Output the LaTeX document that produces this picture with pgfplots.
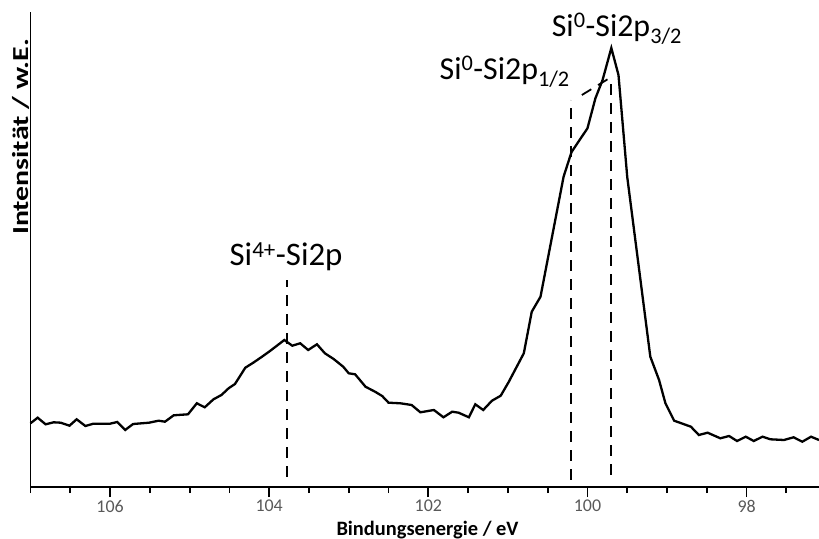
\documentclass[border=0pt]{standalone}
\usepackage{pgfplots}
\pgfplotsset{compat=1.18}
\usepackage{fontspec}
\setmainfont{Carlito}
\begin{document}
\begin{tikzpicture}
\begin{axis}[
  at={(0,0)}, anchor=south west,
  scale only axis, width=788.5bp, height=475bp,
  x dir=reverse, xmin=97.09, xmax=107, ymin=0, ymax=475,
  axis x line=bottom, axis y line=left,
  axis line style={-, line width=1.8bp},
  every outer x axis line/.append style={-},
  every outer y axis line/.append style={-},
  xtick={106,104,102,100,98},
  minor xtick={107,106.5,105.5,105,104.5,103.5,103,102.5,101.5,101,100.5,99.5,99,98.5,97.5},
  ytick=\empty,
  tick align=outside, xtick pos=bottom,
  major tick length=10bp, minor tick length=6bp,
  every tick/.style={black, line width=1.8bp},
  /pgf/number format/assume math mode=true,
  xticklabel style={font=\fontsize{18}{18}\selectfont, text=black!65, yshift=-2bp, inner sep=1bp},
  xlabel={\textbf{Bindungsenergie / eV}},
  xlabel style={at={(axis cs:102.01,-48)}, anchor=base, font=\fontsize{20.5}{20.5}\selectfont, inner sep=0pt},
  ylabel={\scalebox{1.3}[1]{\textbf{Intensität / w.E.}}},
  ylabel style={at={(axis cs:107.125,350)}, anchor=center, font=\fontsize{23}{23}\selectfont, inner sep=0pt},
  clip=false,
]
\addplot[black, line width=2.3bp] coordinates {
(107.00,63.7) (106.91,69.3) (106.81,62.7) (106.71,64.7) (106.62,64.3) (106.51,61.3)
(106.42,67.7) (106.31,61) (106.21,63.3) (106.00,63.3) (105.91,65) (105.81,57)
(105.71,63) (105.51,64.3) (105.39,66.3) (105.31,65.3) (105.20,71.7) (105.02,72.7)
(104.91,83.7) (104.81,79.7) (104.70,87.7) (104.60,92) (104.51,98.7) (104.43,103)
(104.30,119.3) (104.20,124.3) (104.09,130.3) (103.99,136) (103.88,142.7) (103.81,147)
(103.71,141.3) (103.61,143.7) (103.51,137) (103.40,142.7) (103.30,133.7) (103.19,128)
(103.07,120.3) (103.00,113.7) (102.92,112.7) (102.79,100.3) (102.67,95.3) (102.58,91)
(102.50,84.3) (102.35,83.7) (102.21,82) (102.10,74.7) (101.93,77) (101.81,69.7)
(101.70,75.3) (101.62,74.3) (101.49,69.7) (101.41,82.7) (101.31,77) (101.20,86.3)
(101.09,91.3) (100.99,105) (100.80,133.7) (100.70,175.3) (100.59,190.3) (100.30,310.3)
(100.20,335) (100.00,358.7) (99.90,388.7) (99.81,407) (99.70,439) (99.61,412)
(99.50,310) (99.21,130.3) (99.10,107) (99.02,83.7) (98.91,66.3) (98.70,60.3)
(98.60,52) (98.49,54.3) (98.33,48.7) (98.22,51) (98.12,46) (98.01,50.3)
(97.91,46) (97.80,50.3) (97.70,47.7) (97.53,47) (97.41,49.7) (97.30,45.3)
(97.19,50.3) (97.09,47)
};
\addplot[black, line width=1.8bp, dash pattern=on 11bp off 8bp] coordinates {(103.78,10) (103.78,207)};
\addplot[black, line width=1.8bp, dash pattern=on 11bp off 8bp] coordinates {(100.21,7) (100.21,387)};
\addplot[black, line width=1.8bp, dash pattern=on 11bp off 8bp] coordinates {(99.70,12) (99.70,410)};
\addplot[black, line width=1.8bp, dash pattern=on 11bp off 8bp] coordinates {(100.07,392) (99.70,410)};
\node[anchor=base west, font=\fontsize{33}{33}\selectfont, inner sep=0pt] at (axis cs:104.50,221) {Si\textsuperscript{4+}-Si2p};
\node[anchor=base west, font=\fontsize{32}{32}\selectfont, inner sep=0pt] at (axis cs:101.86,407) {Si\textsuperscript{0}-Si2p\textsubscript{1/2}};
\node[anchor=base west, font=\fontsize{32}{32}\selectfont, inner sep=0pt] at (axis cs:100.45,450) {Si\textsuperscript{0}-Si2p\textsubscript{3/2}};
\end{axis}
\pgfresetboundingbox
\path (-30.5bp,-52bp) rectangle (788.5bp,487bp);
\end{tikzpicture}
\end{document}
